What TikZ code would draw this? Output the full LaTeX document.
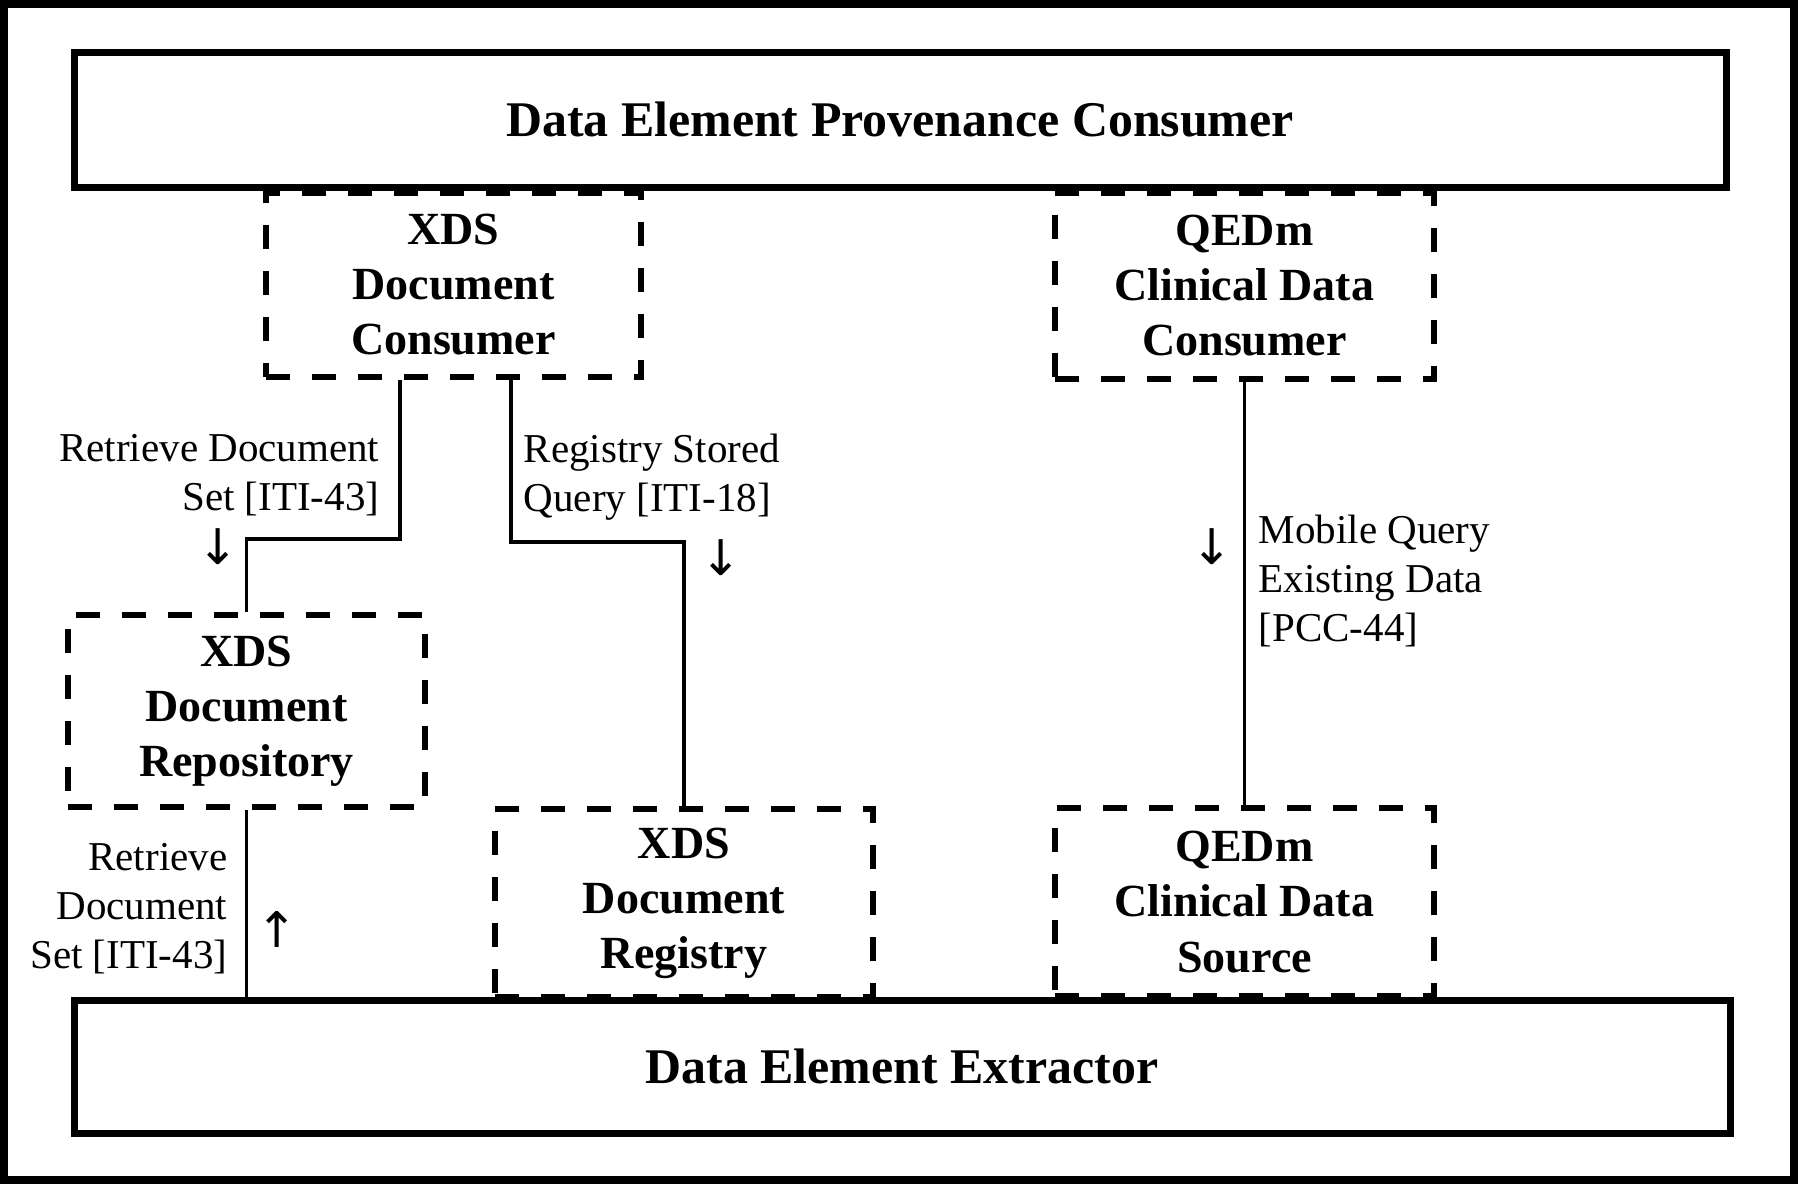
\documentclass[tikz,border=0pt]{standalone}
\usepackage{fontspec}
\setmainfont{Liberation Serif}
\newfontfamily\arrowfont{DejaVu Sans}
\begin{document}
\begin{tikzpicture}[x=0.1mm,y=-0.1mm,
  actor/.style={draw,line width=0.7mm,inner sep=0pt,font=\fontsize{14.2}{17}\selectfont\bfseries},
  dbox/.style={draw,line width=0.6mm,dash pattern=on 2.4mm off 2.2mm,inner sep=0pt,align=center,font=\fontsize{13.1}{15.65}\selectfont\bfseries},
  lbl/.style={inner sep=0pt,font=\fontsize{11.67}{13.94}\selectfont},
  dir/.style={inner sep=0pt,font=\arrowfont\fontsize{14}{14}\selectfont},
  link/.style={line width=0.38mm}]
 \useasboundingbox (0,0) rectangle (1798,1184);
 \draw[line width=0.8mm](4,4)rectangle(1794,1180);
 % actors
 \node[actor,minimum width=165.2mm,minimum height=13.5mm](DEPC) at (900,119.5){Data Element Provenance Consumer};
 \node[actor,minimum width=165.6mm,minimum height=13.3mm](DEE) at (902,1066.5){Data Element Extractor};
 \node[dbox,minimum width=37.5mm,minimum height=18.4mm](XDC) at (453.5,284.5){XDS\\Document\\Consumer};
 \node[dbox,minimum width=37.9mm,minimum height=18.6mm](QCDC) at (1244.5,285.5){QEDm\\Clinical Data\\Consumer};
 \node[dbox,minimum width=35.7mm,minimum height=19.2mm](XDRep) at (246.5,711){XDS\\Document\\Repository};
 \node[dbox,minimum width=37.8mm,minimum height=18.8mm](XDReg) at (684,903){XDS\\Document\\Registry};
 \node[dbox,minimum width=37.9mm,minimum height=18.8mm](QCDS) at (1244.5,902){QEDm\\Clinical Data\\Source};
 % transactions
 \coordinate(b1) at (400,539);
 \coordinate(b2) at (511,542);
 \draw[link](b1 |- XDC.south)--(b1)-|(XDRep.north);
 \draw[link](b2 |- XDC.south)--(b2)-|(XDReg.north);
 \draw[link](QCDC.south)--(QCDS.north);
 \draw[link](XDRep.south)--(XDRep.south |- DEE.north);
 \node[lbl,align=right,anchor=east](t43a) at (380,475.5){Retrieve Document\\Set [ITI-43]};
 \node[lbl,align=left,anchor=west](t18) at (523,477.5){Registry Stored\\Query [ITI-18]};
 \node[lbl,align=right,anchor=east](t43b) at (228,909){Retrieve\\Document\\Set [ITI-43]};
 \node[lbl,align=left,anchor=west](p44) at (1258,581){Mobile Query\\Existing Data\\{}[PCC-44]};
 \node[dir](a1) at (218,547){↓};
 \node[dir](a2) at (721,558){↓};
 \node[dir](a3) at (1212,547){↓};
 \node[dir](a4) at (277,929){↑};
\end{tikzpicture}
\end{document}
